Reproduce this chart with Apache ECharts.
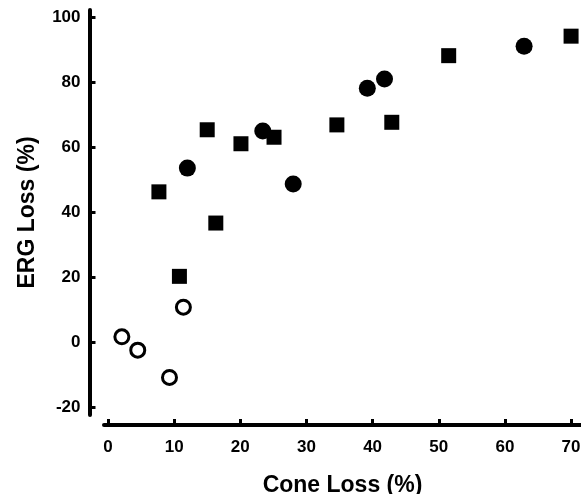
<!DOCTYPE html>
<html>
<head>
<meta charset="utf-8">
<script src="https://cdn.jsdelivr.net/npm/echarts@6/dist/echarts.min.js"></script>
<style>
html,body{margin:0;padding:0;background:#fff;}
#chart{width:581px;height:494px;}
</style>
</head>
<body>
<div id="chart"></div>
<script>
// Data
const xTicks = [0, 10, 20, 30, 40, 50, 60, 70];
const yTicks = [-20, 0, 20, 40, 60, 80, 100];
const squareData = [[7.7,46.2],[10.8,20.2],[15.0,65.3],[16.3,36.6],[20.1,61.0],[25.1,63.0],[34.6,66.8],[42.9,67.6],[51.5,88.1],[70.0,94.1]];
const filledCircleData = [[12.0,53.5],[23.4,64.9],[28.0,48.6],[39.2,78.1],[41.8,80.9],[62.9,91.0]];
const openCircleData = [[2.1,1.6],[4.5,-2.5],[9.3,-10.9],[11.4,10.7]];
const xTitle = 'Cone Loss (%)';
const yTitle = 'ERG Loss (%)';

const FONT = '"Liberation Sans", Arial, sans-serif';
const chart = echarts.init(document.getElementById('chart'), null, {renderer: 'canvas'});
chart.setOption({
  animation: false,
  backgroundColor: '#fff',
  grid: {left: 104, right: 0, top: 10, bottom: 79, containLabel: false, outerBoundsMode: 'none'},
  xAxis: {
    type: 'value', min: -0.6, max: 71.5, offset: 10,
    splitLine: {show: false},
    axisLine: {show: true, onZero: false, lineStyle: {color: '#000', width: 4}},
    axisTick: {show: true, inside: true, length: 6, customValues: xTicks, lineStyle: {color: '#000', width: 3}},
    axisLabel: {customValues: xTicks, margin: 14, color: '#000', fontFamily: FONT, fontWeight: 'bold', fontSize: 17},
    name: xTitle, nameLocation: 'middle', nameGap: 49,
    nameTextStyle: {color: '#000', fontFamily: FONT, fontWeight: 'bold', fontSize: 23}
  },
  yAxis: {
    type: 'value', min: -22.46, max: 102.15, offset: 14.5,
    splitLine: {show: false},
    axisLine: {show: true, onZero: false, lineStyle: {color: '#000', width: 4}},
    axisTick: {show: true, inside: true, length: 6, customValues: yTicks, lineStyle: {color: '#000', width: 3}},
    axisLabel: {customValues: yTicks, margin: 9, color: '#000', fontFamily: FONT, fontWeight: 'bold', fontSize: 17},
    name: yTitle, nameLocation: 'middle', nameGap: 50,
    nameTextStyle: {color: '#000', fontFamily: FONT, fontWeight: 'bold', fontSize: 23}
  },
  series: [
    {type: 'scatter', data: squareData, symbol: 'rect', symbolSize: 15,
     itemStyle: {color: '#000', opacity: 1}},
    {type: 'scatter', data: filledCircleData, symbol: 'circle', symbolSize: 17,
     itemStyle: {color: '#000', opacity: 1}},
    {type: 'scatter', data: openCircleData, symbol: 'circle', symbolSize: 14,
     itemStyle: {color: '#fff', borderColor: '#000', borderWidth: 3, opacity: 1}}
  ]
});
</script>
</body>
</html>
